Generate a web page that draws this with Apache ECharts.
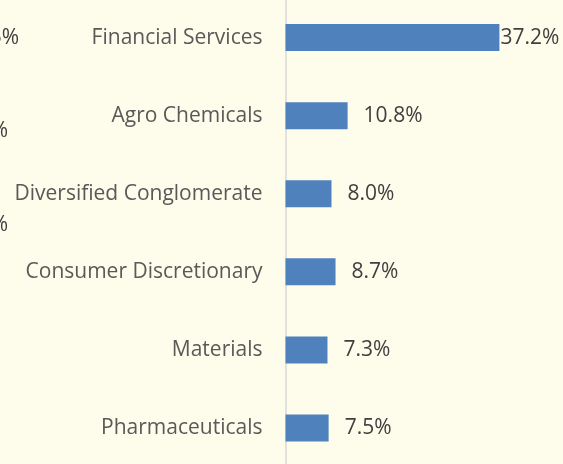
<!DOCTYPE html>
<html>
<head>
<meta charset="utf-8">
<script src="https://cdn.jsdelivr.net/npm/echarts@6/dist/echarts.min.js"></script>
<style>
html,body{margin:0;padding:0;background:#FEFCEB;}
#c{width:563px;height:464px;}
</style>
</head>
<body>
<div id="c"></div>
<script>
var categories = ['Financial Services','Agro Chemicals','Diversified Conglomerate','Consumer Discretionary','Materials','Pharmaceuticals'];
var values = [37.2, 10.8, 8.0, 8.7, 7.3, 7.5];
// partially visible labels of a neighbouring chart, cut off at the left edge
var leftFragments = ['15.5%', '7.0%', '6.0%'];

var chart = echarts.init(document.getElementById('c'));
var data = values.map(function(v, i){
  var d = {value: v};
  if (i === 0) d.label = {distance: 1};
  return d;
});
chart.setOption({
  backgroundColor: '#FEFCEB',
  animation: false,
  grid: {left: 285.5, right: 47.5, top: -1.5, bottom: -3, outerBoundsMode: 'none', containLabel: false},
  xAxis: {type: 'value', min: 0, max: 40, show: false},
  yAxis: {
    type: 'category', data: categories, inverse: true,
    axisLine: {show: true, lineStyle: {color: '#D9D9D9', width: 1.5}},
    axisTick: {show: false},
    axisLabel: {color: '#595959', fontFamily: 'Open Sans', fontSize: 21, margin: 23}
  },
  series: [{
    type: 'bar', data: data, barWidth: 27,
    itemStyle: {color: '#4F81BD'},
    label: {show: true, position: 'right', distance: 16, color: '#404040', fontFamily: 'Open Sans', fontSize: 21,
      formatter: function(p){ return p.value.toFixed(1) + '%'; }}
  }],
  graphic: leftFragments.map(function(t, i){
    var ys = [38, 131, 225];
    var xs = [19, 8, 8];
    return {type: 'text', x: xs[i], y: ys[i], style: {text: t, fill: '#404040', font: '21px "Open Sans"', align: 'right', verticalAlign: 'middle'}};
  })
});
</script>
</body>
</html>
